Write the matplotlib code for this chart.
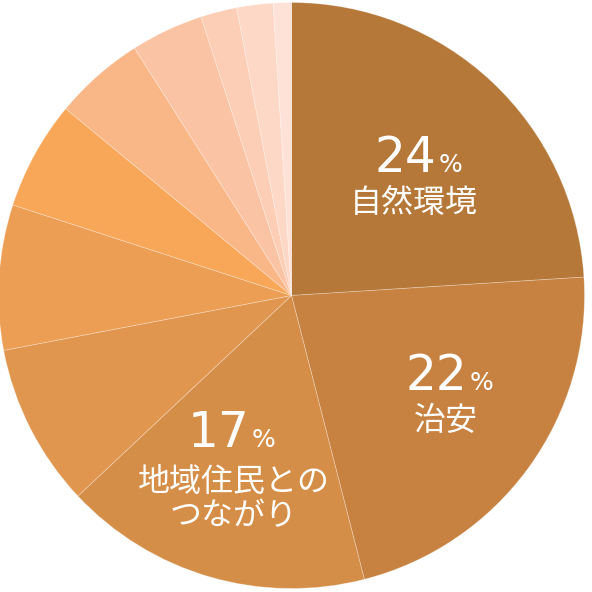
import numpy as np
import matplotlib
matplotlib.use('Agg')
import matplotlib.pyplot as plt

# 回答の割合（時計回り、12時から）
shares = [24, 22, 17, 9, 8, 6, 5, 4, 2, 2, 1]
colors = ['#B57839', '#C78140', '#D58E48', '#E1964F', '#EC9E54', '#F8A758',
          '#F9B686', '#FAC3A3', '#FCCEB5', '#FDD8C7', '#FEE2D8']
top_labels = ['自然環境', '治安', '地域住民との\nつながり']

W = H = 592
cx, cy, r = 291.5, 295.5, 293.0

fig = plt.figure(figsize=(W / 100, H / 100), dpi=100)
ax = fig.add_axes([(cx - r) / W, (H - cy - r) / H, 2 * r / W, 2 * r / H])
ax.pie(shares, colors=colors, startangle=90, counterclock=False, radius=1,
       wedgeprops=dict(edgecolor=(1, 1, 1, 0.3), linewidth=0.6))
ax.set_xlim(-1, 1)
ax.set_ylim(-1, 1)
ax.set_aspect('equal')
ax.axis('off')

num_font = ['DejaVu Sans']
jp_font = ['Noto Sans CJK JP', 'DejaVu Sans']

def px(x, y):
    return x / W, 1 - y / H

# (数字の右端x, ベースラインy, ラベル中心x, ラベル中心y)
pos = [(436, 172, 414, 203), (467, 390, 446, 421), (249, 447, 234, 499)]
for k, (xn, yb, xl, yl) in enumerate(pos):
    fig.text(*px(xn, yb), str(shares[k]), fontsize=35, color='white',
             ha='right', va='baseline', family=num_font)
    fig.text(*px(xn + 3, yb), '%', fontsize=18, color='white',
             ha='left', va='baseline', family=num_font)
    fig.text(*px(xl, yl), top_labels[k], fontsize=23, color='white',
             ha='center', va='center', family=jp_font, linespacing=1.12)

fig.savefig('out.png', dpi=100)
